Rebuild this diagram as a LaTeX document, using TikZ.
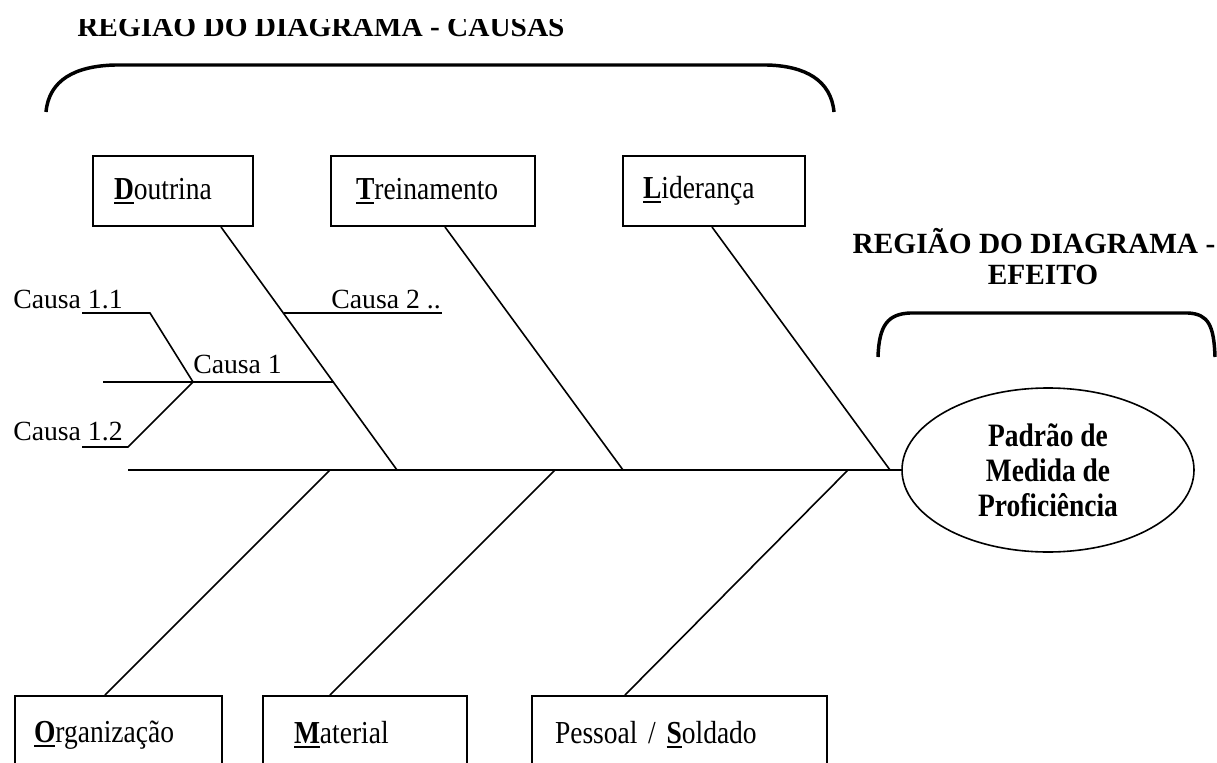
\documentclass[tikz,border=0pt]{standalone}
\usepackage{fontspec}
\setmainfont{Liberation Serif}
\newfontfamily\condserif{Liberation Serif}[FakeStretch=0.86]
\newfontfamily\condserifb{Liberation Serif}[FakeStretch=0.84]
\usetikzlibrary{shapes.geometric,calc}

% bold, underlined initial letter of a category name
\newcommand\keyletter[1]{\setbox0\hbox{\bfseries #1}\rlap{\rule[-3.3pt]{\wd0}{1.4pt}}\box0}

\newcommand\causafont{\fontsize{20.8pt}{25pt}\selectfont}
\newcommand\labelfont{\condserif\fontsize{24pt}{28pt}\selectfont}
\newcommand\headfont{\bfseries\fontsize{22pt}{21pt}\selectfont}
\newcommand\effectfont{\condserifb\bfseries\fontsize{24.5pt}{26.25pt}\selectfont}

\tikzset{
  bone/.style={line width=1.2pt},
  brace/.style={line width=2.6pt},
  causebox/.style={draw, line width=1.5pt, anchor=north west, inner ysep=0pt, align=left, font=\labelfont},
  causetext/.style={font=\causafont, inner sep=0pt},
  heading/.style={font=\headfont, inner sep=0pt},
}

\begin{document}
\begin{tikzpicture}[x=0.75pt, y=-0.75pt]
\fill[white] (0,0) rectangle (1217,763);
\useasboundingbox (0,0) rectangle (1217,763);
\begin{scope}
\clip (0,20) rectangle (1217,763);

% headings
\node[heading, anchor=base west] (causastitle) at (77,37) {REGIÃO DO DIAGRAMA - CAUSAS};
\node[heading, anchor=base] (efeitotitle1) at (1034,253) {REGIÃO DO DIAGRAMA -};
\node[heading, anchor=base] (efeitotitle2) at (1043,284) {EFEITO};

% brackets over the two regions
\draw[brace] (46,112) .. controls (49,80) and (75,66) .. (115,65) -- (767,65)
  .. controls (805,66) and (831,80) .. (834,112);
\draw[brace] (878,357) .. controls (879,325) and (888,314) .. (910,313) -- (1188,313)
  .. controls (1208,314) and (1214,325) .. (1215,357);

% category boxes
\node[causebox, minimum width=120pt, minimum height=52.5pt, inner xsep=15.75pt, text width=88.5pt] (dout) at (92,155) {\keyletter{D}outrina};
\node[causebox, minimum width=153pt, minimum height=52.5pt, inner xsep=18.75pt, text width=115.5pt] (trein) at (330,155) {\keyletter{T}reinamento};
\node[causebox, minimum width=136.5pt, minimum height=52.5pt, inner xsep=15pt, text width=106.5pt] (lider) at (622,155) {\keyletter{L}iderança};
\node[causebox, minimum width=155.25pt, minimum height=58.5pt, inner xsep=14.25pt, text width=126.75pt] (org) at (14,695) {\keyletter{O}rganização};
\node[causebox, minimum width=153pt, minimum height=58.5pt, inner xsep=23.25pt, text width=106.5pt] (mat) at (262,695) {\keyletter{M}aterial};
\node[causebox, minimum width=221.25pt, minimum height=58.5pt, inner xsep=17.25pt, text width=186.75pt] (pess) at (531,695) {Pessoal / \keyletter{S}oldado};

% effect
\node[draw, ellipse, line width=1.2pt, minimum width=219pt, minimum height=123pt, inner sep=0pt, align=center, font=\effectfont] (efeito) at (1048,470) {Padrão de\\Medida de\\Proficiência};

% spine and its joints
\coordinate (tail) at (128,470);
\coordinate (jD) at (397,470);
\coordinate (jT) at (623,470);
\coordinate (jL) at (890,470);
\coordinate (jO) at (330,470);
\coordinate (jM) at (555,470);
\coordinate (jP) at (848,470);
\draw[bone] (tail) -- (efeito.west);

% main bones
\draw[bone] ($(dout.south west)+(129,0)$) -- (jD);
\draw[bone] ($(trein.south west)+(115,0)$) -- (jT);
\draw[bone] ($(lider.south west)+(90,0)$) -- (jL);
\draw[bone] (jO) -- ($(org.north west)+(91,0)$);
\draw[bone] (jM) -- ($(mat.north west)+(68,0)$);
\draw[bone] (jP) -- ($(pess.north west)+(94,0)$);

% sub-causes on the Doutrina bone
\node[causetext, anchor=base west] (c11) at (13,308) {Causa 1.1};
\node[causetext, anchor=base west] (c12) at (13,440) {Causa 1.2};
\node[causetext, anchor=base west] (c1) at (193,373) {Causa 1};
\node[causetext, anchor=base east] (c2) at (441,308) {Causa 2 ..};

\coordinate (c2L) at (284,313);
\coordinate (c2R) at (442,313);
\coordinate (c1L) at (103,382);
\coordinate (c1R) at (334,382);
\coordinate (c1j) at (193,382);
\coordinate (c11a) at (82,313);
\coordinate (c11b) at (150,313);
\coordinate (c12a) at (82,447);
\coordinate (c12b) at (128,447);

\draw[bone] (c2L) -- (c2R);
\draw[bone] (c1L) -- (c1R);
\draw[bone] (c11a) -- (c11b) -- (c1j);
\draw[bone] (c1j) -- (c12b) -- (c12a);
\end{scope}
\end{tikzpicture}
\end{document}
